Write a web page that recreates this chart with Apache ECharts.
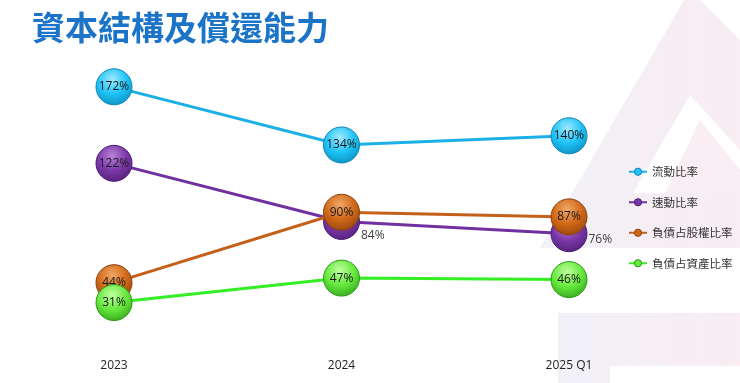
<!DOCTYPE html>
<html><head><meta charset="utf-8">
<script src="https://cdn.jsdelivr.net/npm/echarts@6/dist/echarts.min.js"></script>
<style>html,body{margin:0;padding:0;background:#fff}#c{width:740px;height:383px}</style>
</head><body><div id="c"></div>
<script>
const titleText = '資本結構及償還能力';
const categories = ['2023', '2024', '2025 Q1'];
const seriesNames = ['流動比率', '速動比率', '負債占股權比率', '負債占資產比率'];
const currentRatio = [172, 134, 140];
const quickRatio = [122, 84, 76];
const debtToEquity = [44, 90, 87];
const debtToAssets = [31, 47, 46];

const palette = [
  {line: '#1cb0e6', light: '#9eeaff', mid: '#1ec3f6', dark: '#0b86b8'},
  {line: '#7030a0', light: '#b984da', mid: '#7a36a8', dark: '#4c1d70'},
  {line: '#c5601a', light: '#f2a868', mid: '#d06818', dark: '#8a400c'},
  {line: '#33ee22', light: '#c0ffa0', mid: '#66e83c', dark: '#2c9a18'}
];
function ball(p) {
  return {
    type: 'radial', x: 0.45, y: 0.3, r: 0.8,
    colorStops: [
      {offset: 0, color: p.light},
      {offset: 0.5, color: p.mid},
      {offset: 1, color: p.dark}
    ]
  };
}
const values = [currentRatio, quickRatio, debtToEquity, debtToAssets];
const series = values.map((vals, i) => {
  const p = palette[i];
  const data = vals.map((v, j) => {
    const d = {value: v};
    if (i === 1 && j > 0) {
      d.label = {position: 'right', distance: 1, offset: j === 1 ? [0, 14] : [0, 6], color: '#404040'};
    }
    return d;
  });
  return {
    name: seriesNames[i], type: 'line', data: data,
    symbol: 'circle', symbolSize: 36,
    lineStyle: {color: p.line, width: 3},
    itemStyle: {color: ball(p), borderColor: p.dark, borderWidth: 1},
    label: {show: true, position: 'inside', formatter: '{c}%', fontSize: 12, color: '#1a1a1a',
            fontFamily: 'Open Sans, sans-serif'},
    emphasis: {disabled: true},
    z: 2 + i
  };
});

const legendData = seriesNames.map((n, i) => ({
  name: n,
  itemStyle: {color: palette[i].mid, borderColor: palette[i].dark, borderWidth: 1}
}));

const chart = echarts.init(document.getElementById('c'), null, {renderer: 'canvas'});
chart.setOption({
  animation: false,
  backgroundColor: '#fff',
  graphic: [
    {type: 'polygon', silent: true, z: -10,
     shape: {points: [[690, -10], [540, 248], [740, 248], [740, 40]]},
     style: {fill: {type: 'linear', x: 0, y: 0, x2: 1, y2: 0, colorStops: [{offset: 0, color: '#f1f1f7'}, {offset: 1, color: '#f9ecf3'}]}}},
    {type: 'polygon', silent: true, z: -9,
     shape: {points: [[690, 95], [633, 193], [740, 193], [740, 150]]},
     style: {fill: '#ffffff'}},
    {type: 'polygon', silent: true, z: -8,
     shape: {points: [[700, 120], [665, 193], [740, 193], [740, 170]]},
     style: {fill: '#faeef4'}},
    {type: 'rect', silent: true, z: -10,
     shape: {x: 558, y: 313, width: 182, height: 70},
     style: {fill: {type: 'linear', x: 0, y: 0, x2: 1, y2: 0, colorStops: [{offset: 0, color: '#f1f1f7'}, {offset: 1, color: '#f9ecf3'}]}}},
    {type: 'rect', silent: true, z: -9,
     shape: {x: 610, y: 366, width: 130, height: 17},
     style: {fill: '#ffffff'}}
  ],
  title: {
    text: titleText, left: 27, top: 6,
    textStyle: {fontSize: 33, fontWeight: 'bold', color: '#1b74c8', fontFamily: 'Noto Sans CJK TC, sans-serif'}
  },
  legend: {
    orient: 'vertical', left: 623, top: 161,
    itemWidth: 18, itemHeight: 9, itemGap: 19,
    data: legendData,
    textStyle: {fontSize: 11.5, color: '#333', fontFamily: 'Noto Sans CJK TC, sans-serif'}
  },
  grid: {left: 114, right: 171, top: 44, bottom: 33, containLabel: false},
  xAxis: {
    type: 'category', data: categories, boundaryGap: false,
    axisLine: {show: false}, axisTick: {show: false}, splitLine: {show: false},
    axisLabel: {fontSize: 12, color: '#222', margin: 10, fontFamily: 'Open Sans, sans-serif'}
  },
  yAxis: {type: 'value', min: 0, max: 200, show: false, splitLine: {show: false}},
  series: series
});
</script></body></html>
